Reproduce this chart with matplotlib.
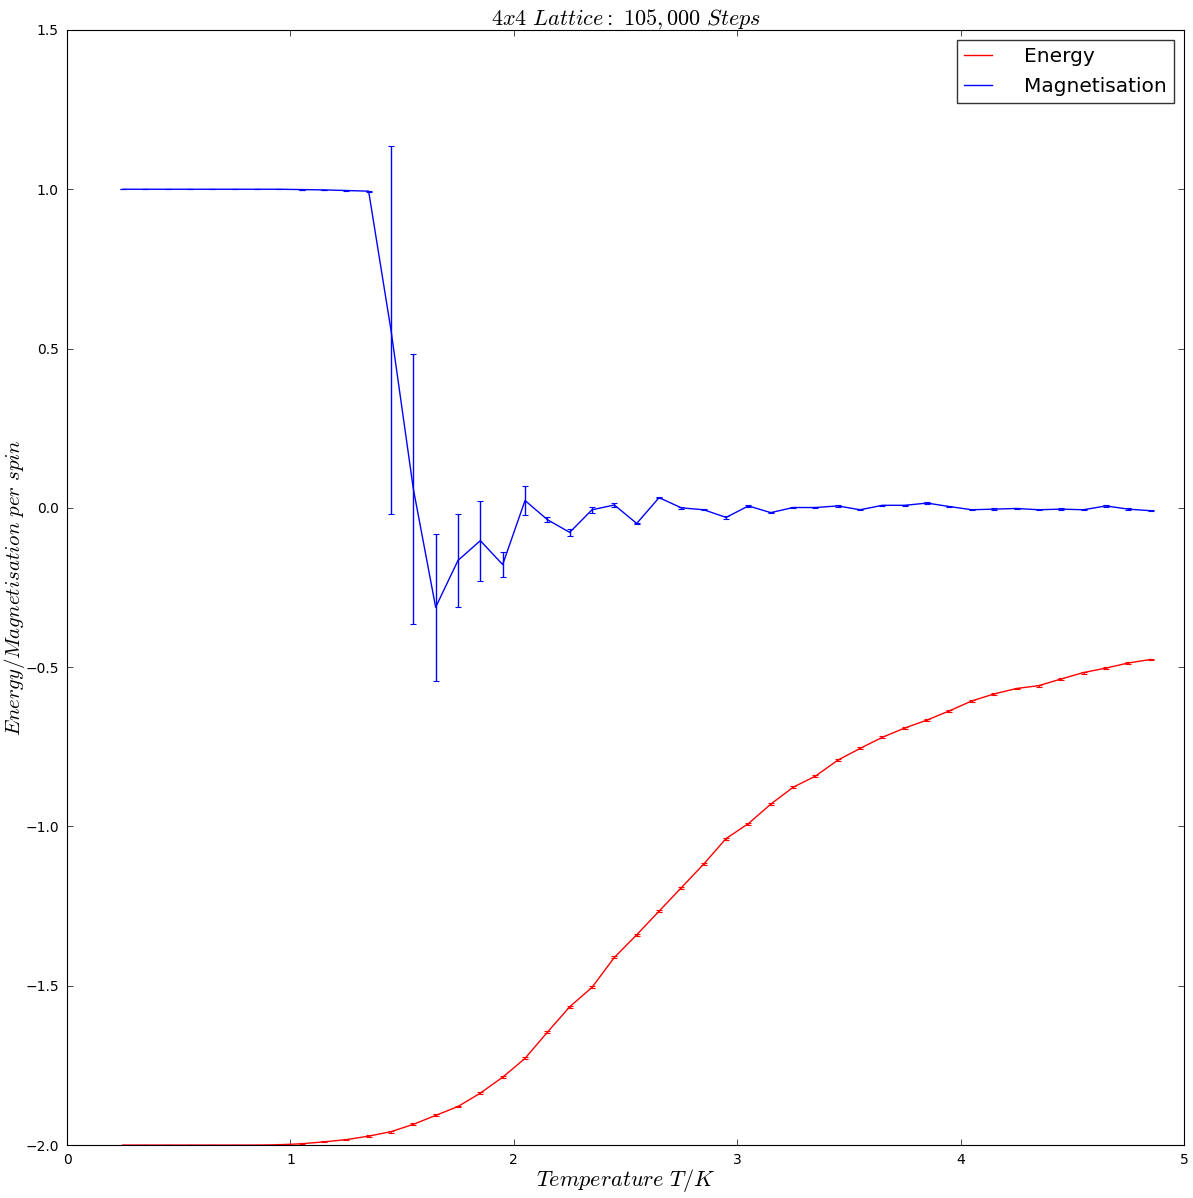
import numpy as np
import matplotlib
matplotlib.use("Agg")
import matplotlib.pyplot as plt
from matplotlib.lines import Line2D

# temperatures (T/K)
temps = [0.25, 0.35, 0.45, 0.55, 0.65, 0.75, 0.85, 0.95, 1.05, 1.15,
         1.25, 1.35, 1.45, 1.55, 1.65, 1.75, 1.85, 1.95, 2.05, 2.15,
         2.25, 2.35, 2.45, 2.55, 2.65, 2.75, 2.85, 2.95, 3.05, 3.15,
         3.25, 3.35, 3.45, 3.55, 3.65, 3.75, 3.85, 3.95, 4.05, 4.15,
         4.25, 4.35, 4.45, 4.55, 4.65, 4.75, 4.85]

energy = [-2.0, -2.0, -2.0, -2.0, -2.0, -2.0, -2.0, -1.999, -1.996, -1.990,
          -1.983, -1.972, -1.958, -1.935, -1.907, -1.879, -1.837, -1.787, -1.728, -1.646,
          -1.566, -1.505, -1.411, -1.340, -1.266, -1.192, -1.118, -1.038, -0.991, -0.930,
          -0.877, -0.842, -0.792, -0.755, -0.720, -0.691, -0.666, -0.637, -0.606, -0.584,
          -0.567, -0.558, -0.537, -0.517, -0.503, -0.487, -0.476]

energy_err = [0.0, 0.0, 0.0, 0.0, 0.0, 0.0, 0.0, 0.001, 0.001, 0.002,
              0.002, 0.003, 0.003, 0.003, 0.003, 0.003, 0.003, 0.003, 0.003, 0.003,
              0.003, 0.003, 0.003, 0.003, 0.003, 0.003, 0.003, 0.003, 0.003, 0.003,
              0.003, 0.003, 0.003, 0.003, 0.003, 0.003, 0.003, 0.003, 0.003, 0.003,
              0.003, 0.003, 0.003, 0.003, 0.003, 0.003, 0.003]

magnet = [1.0, 1.0, 1.0, 1.0, 1.0, 1.0, 1.0, 1.0, 0.999, 0.998,
          0.996, 0.994, 0.558, 0.060, -0.312, -0.165, -0.103, -0.178, 0.023, -0.037,
          -0.077, -0.006, 0.009, -0.049, 0.032, 0.0, -0.006, -0.030, 0.006, -0.015,
          0.001, 0.001, 0.006, -0.006, 0.008, 0.008, 0.015, 0.004, -0.006, -0.004,
          -0.002, -0.006, -0.004, -0.006, 0.006, -0.004, -0.009]

magnet_err = [0.0, 0.0, 0.0, 0.0, 0.0, 0.0, 0.0, 0.0, 0.0, 0.001,
              0.002, 0.002, 0.577, 0.424, 0.231, 0.146, 0.126, 0.040, 0.045, 0.007,
              0.012, 0.009, 0.005, 0.003, 0.002, 0.003, 0.002, 0.004, 0.002, 0.002,
              0.002, 0.002, 0.002, 0.002, 0.002, 0.002, 0.002, 0.002, 0.002, 0.002,
              0.002, 0.002, 0.002, 0.002, 0.002, 0.002, 0.002]

plt.rcParams['mathtext.fontset'] = 'cm'

fig = plt.figure(figsize=(11.93, 11.98), dpi=100)
ax = fig.add_axes([0.0562, 0.0442, 0.9363, 0.9308])

ax.errorbar(temps, energy, yerr=energy_err, color='red', linewidth=1.0,
            capsize=2.2, capthick=0.8)
ax.errorbar(temps, magnet, yerr=magnet_err, color='blue', linewidth=1.0,
            capsize=2.2, capthick=0.8)

ax.set_xlim(0, 5)
ax.set_ylim(-2.0, 1.5)
ax.set_xticks([0, 1, 2, 3, 4, 5])
ax.set_yticks([-2.0, -1.5, -1.0, -0.5, 0.0, 0.5, 1.0, 1.5])
ax.set_yticklabels(['\u22122.0', '\u22121.5', '\u22121.0', '\u22120.5', '0.0', '0.5', '1.0', '1.5'])
ax.tick_params(axis='both', which='major', direction='in', length=4, width=0.5,
               top=True, right=True, labelsize=10, pad=6)

ax.set_title(r'$4x4\ Lattice:\ 105,000\ Steps$', fontsize=16, pad=4)
ax.set_xlabel(r'$Temperature\ T/K$', fontsize=16, labelpad=0)
ax.set_ylabel(r'$Energy/Magnetisation\ per\ spin$', fontsize=15)
ax.yaxis.set_label_coords(-0.036, 0.5)

handles = [Line2D([], [], color='red', linewidth=1.0),
           Line2D([], [], color='blue', linewidth=1.0)]
leg = ax.legend(handles, ['Energy', 'Magnetisation'], loc='upper right', fontsize=14.5,
                fancybox=False, handlelength=1.4, handletextpad=1.6, borderpad=0.35,
                labelspacing=0.55, borderaxespad=0.5)
leg.get_frame().set_edgecolor('black')
leg.get_frame().set_linewidth(1.0)

fig.savefig('out.png', dpi=100)
